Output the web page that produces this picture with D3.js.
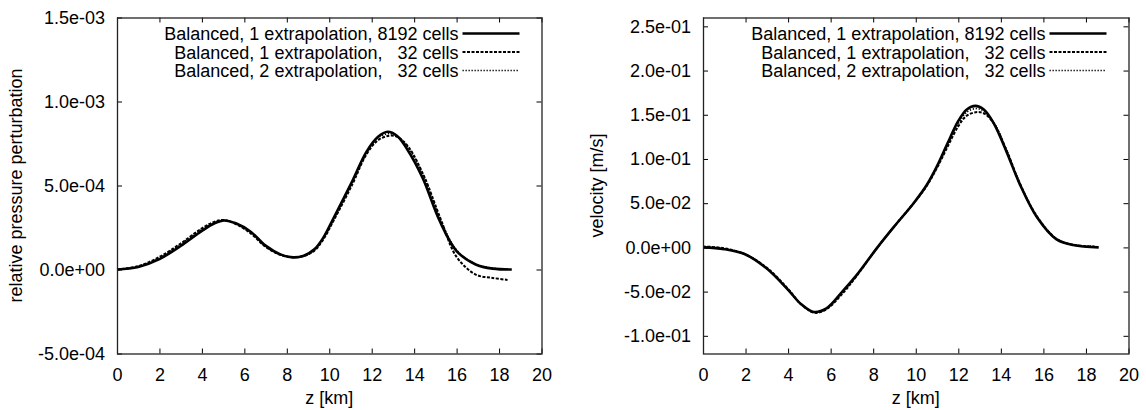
<!DOCTYPE html>
<html>
<head>
<meta charset="utf-8">
<script src="https://cdn.jsdelivr.net/npm/d3@7"></script>
<style>
    body { margin: 0; background: #fff; }
    svg { display: block; }
    text { font-family: "Liberation Sans", Arial, sans-serif; fill: #000; }
</style>
</head>
<body>
<div id="chart"></div>
<script>
// series labels (note the padded spaces, as in the original key)
const seriesNames = [
    "Balanced, 1 extrapolation, 8192 cells",
    "Balanced, 1 extrapolation,   32 cells",
    "Balanced, 2 extrapolation,   32 cells"
];

// z [km] ticks
const zTicks = [0, 2, 4, 6, 8, 10, 12, 14, 16, 18, 20];
const pressTicks = [-5e-4, 0, 5e-4, 1e-3, 1.5e-3];
const velTicks = [-0.1, -0.05, 0, 0.05, 0.1, 0.15, 0.2, 0.25];

// relative pressure perturbation
const pressFineZ = [0, 1, 2, 3, 4, 4.6, 5.05, 5.6, 6.3, 7, 7.7, 8.3, 8.8, 9.3, 9.7, 10.2, 11.1, 11.75, 12.3, 12.75, 13.2, 13.65, 14.4, 15.2, 16, 16.9, 17.7, 18.6];
const pressFine  = [0, 0.15e-4, 0.62e-4, 1.4e-4, 2.3e-4, 2.75e-4, 2.92e-4, 2.75e-4, 2.25e-4, 1.42e-4, 0.9e-4, 0.72e-4, 0.82e-4, 1.2e-4, 1.85e-4, 3.05e-4, 5.3e-4, 7.0e-4, 7.9e-4, 8.2e-4, 7.95e-4, 7.2e-4, 5.45e-4, 2.9e-4, 1.1e-4, 0.3e-4, 0.05e-4, 0];
const press1Z = [0, 1, 2, 3, 4, 4.6, 5.0, 5.6, 6.3, 7, 7.7, 8.3, 8.8, 9.3, 9.7, 10.2, 11.1, 11.75, 12.3, 12.85, 13.2, 13.7, 14.45, 15.25, 16, 16.9, 17.7, 18.4];
const press1  = [0, 0.2e-4, 0.75e-4, 1.55e-4, 2.45e-4, 2.85e-4, 2.95e-4, 2.7e-4, 2.15e-4, 1.35e-4, 0.87e-4, 0.73e-4, 0.8e-4, 1.12e-4, 1.75e-4, 2.9e-4, 5.1e-4, 6.85e-4, 7.7e-4, 7.97e-4, 7.9e-4, 7.35e-4, 5.6e-4, 3.0e-4, 0.75e-4, -0.3e-4, -0.5e-4, -0.62e-4];
const press2Z = [0, 1, 2, 3, 4, 4.6, 5.0, 5.6, 6.3, 7, 7.7, 8.3, 8.8, 9.3, 9.7, 10.2, 11.1, 11.75, 12.3, 12.8, 13.2, 13.7, 14.45, 15.25, 16, 16.9, 17.7, 18.4];
const press2  = [0, 0.18e-4, 0.7e-4, 1.5e-4, 2.4e-4, 2.8e-4, 2.93e-4, 2.72e-4, 2.2e-4, 1.38e-4, 0.88e-4, 0.72e-4, 0.81e-4, 1.15e-4, 1.8e-4, 2.95e-4, 5.2e-4, 6.9e-4, 7.85e-4, 8.08e-4, 7.95e-4, 7.3e-4, 5.55e-4, 2.95e-4, 1.15e-4, 0.32e-4, 0.08e-4, 0.02e-4];

// velocity [m/s]
const velFineZ = [0, 1, 2, 3, 4, 4.6, 5.2, 5.8, 6.55, 7.2, 8.2, 9, 9.9, 10.5, 11, 11.5, 12, 12.4, 12.8, 13.2, 13.65, 14.27, 14.9, 15.7, 16.6, 17.4, 18.6];
const velFine  = [0, -0.002, -0.008, -0.024, -0.048, -0.064, -0.073, -0.069, -0.05, -0.032, 0, 0.024, 0.05, 0.07, 0.092, 0.118, 0.143, 0.156, 0.16, 0.156, 0.141, 0.108, 0.071, 0.034, 0.0094, 0.0027, 0];
const vel1Z = [0, 1, 2, 3, 4, 4.6, 5.25, 5.8, 6.6, 7.2, 8.2, 9, 9.9, 10.5, 11, 11.5, 12, 12.4, 12.9, 13.25, 13.7, 14.3, 14.9, 15.7, 16.6, 17.4, 18.4];
const vel1  = [0.001, -0.001, -0.008, -0.023, -0.047, -0.064, -0.074, -0.07, -0.051, -0.033, 0, 0.024, 0.05, 0.069, 0.09, 0.114, 0.137, 0.149, 0.153, 0.151, 0.139, 0.108, 0.072, 0.035, 0.01, 0.003, 0.001];
const vel2Z = [0, 1, 2, 3, 4, 4.6, 5.2, 5.8, 6.55, 7.2, 8.2, 9, 9.9, 10.5, 11, 11.5, 12, 12.4, 12.85, 13.2, 13.7, 14.3, 14.9, 15.7, 16.6, 17.4, 18.4];
const vel2  = [0, -0.002, -0.008, -0.024, -0.048, -0.064, -0.073, -0.069, -0.05, -0.032, 0, 0.024, 0.05, 0.07, 0.091, 0.116, 0.14, 0.153, 0.157, 0.154, 0.14, 0.108, 0.071, 0.034, 0.0095, 0.003, 0.001];

const W = 1146, H = 410;

const svg = d3.select("#chart").append("svg")
    .attr("width", W)
    .attr("height", H);

svg.append("rect").attr("width", W).attr("height", H).attr("fill", "#fff");

// gnuplot style exponent: 5.0e-04, 0.0e+00
const gpFormat = v => v.toExponential(1).replace(/e([+-])(\d)$/, "e$10$2");

const lineStyles = [
    {width: 2.6, dash: null},
    {width: 2.0, dash: "3,1.5"},
    {width: 1.6, dash: "1.3,1.7"}
];

function drawPanel(cfg) {
    const g = svg.append("g").attr("transform", `translate(${cfg.left},${cfg.top})`);
    const width = cfg.width, height = cfg.height;

    const x = d3.scaleLinear().domain([0, 20]).range([0, width]);
    const y = d3.scaleLinear().domain(cfg.yDomain).range([height, 0]);

    const tick = 5;

    // bottom + left axes with labels, ticks pointing inside
    const xAxis = g.append("g").attr("transform", `translate(0,${height})`)
        .call(d3.axisBottom(x).tickValues(zTicks).tickSize(-tick).tickPadding(15).tickFormat(d3.format("d")));
    const yAxis = g.append("g")
        .call(d3.axisLeft(y).tickValues(cfg.yTicks).tickSize(-tick).tickPadding(12).tickFormat(gpFormat));
    // mirrored ticks on top and right
    const xTop = g.append("g")
        .call(d3.axisTop(x).tickValues(zTicks).tickSize(-tick).tickFormat(""));
    const yRight = g.append("g").attr("transform", `translate(${width},0)`)
        .call(d3.axisRight(y).tickValues(cfg.yTicks).tickSize(-tick).tickFormat(""));

    [xAxis, yAxis, xTop, yRight].forEach(a => {
        a.select(".domain").remove();
        a.selectAll("line").attr("stroke", "#000").attr("stroke-width", 1);
        a.selectAll("text").attr("font-size", 18).attr("font-family", "Liberation Sans, Arial, sans-serif").attr("fill", "#000");
    });

    // series
    const line = d3.line()
        .x(d => x(d[0]))
        .y(d => y(d[1]))
        .curve(d3.curveCatmullRom.alpha(0.5));

    cfg.series.forEach((s, i) => {
        const pts = s.z.map((z, j) => [z, s.v[j]]);
        g.append("path")
            .datum(pts)
            .attr("fill", "none")
            .attr("stroke", "#000")
            .attr("stroke-width", lineStyles[i].width)
            .attr("stroke-dasharray", lineStyles[i].dash)
            .attr("d", line);
    });

    // frame
    g.append("rect")
        .attr("x", 0.5).attr("y", 0.5)
        .attr("width", width).attr("height", height)
        .attr("fill", "none")
        .attr("stroke", "#222")
        .attr("stroke-width", 1.3);

    // key
    const key = g.append("g");
    seriesNames.forEach((name, i) => {
        const ky = 16 + i * 18.5;
        key.append("text")
            .attr("x", width - 83)
            .attr("y", ky + 6.5)
            .attr("text-anchor", "end")
            .attr("font-size", 18)
            .style("white-space", "pre")
            .text(name);
        key.append("line")
            .attr("x1", width - 79).attr("x2", width - 22)
            .attr("y1", ky).attr("y2", ky)
            .attr("stroke", "#000")
            .attr("stroke-width", lineStyles[i].width)
            .attr("stroke-dasharray", lineStyles[i].dash);
    });

    // axis titles
    g.append("text")
        .attr("x", width / 2)
        .attr("y", height + 50)
        .attr("text-anchor", "middle")
        .attr("font-size", 18)
        .text("z [km]");

    g.append("text")
        .attr("transform", `translate(${cfg.yLabelX},${height / 2}) rotate(-90)`)
        .attr("text-anchor", "middle")
        .attr("font-size", 18)
        .text(cfg.yLabel);
}

drawPanel({
    left: 117, top: 17.5, width: 424.5, height: 336,
    yDomain: [-5e-4, 1.5e-3],
    yTicks: pressTicks,
    yLabel: "relative pressure perturbation",
    yLabelX: -95,
    series: [
        {z: pressFineZ, v: pressFine},
        {z: press1Z, v: press1},
        {z: press2Z, v: press2}
    ]
});

drawPanel({
    left: 703, top: 17.5, width: 425.5, height: 336,
    yDomain: [-0.12, 0.26],
    yTicks: velTicks,
    yLabel: "velocity [m/s]",
    yLabelX: -100,
    series: [
        {z: velFineZ, v: velFine},
        {z: vel1Z, v: vel1},
        {z: vel2Z, v: vel2}
    ]
});
</script>
</body>
</html>
